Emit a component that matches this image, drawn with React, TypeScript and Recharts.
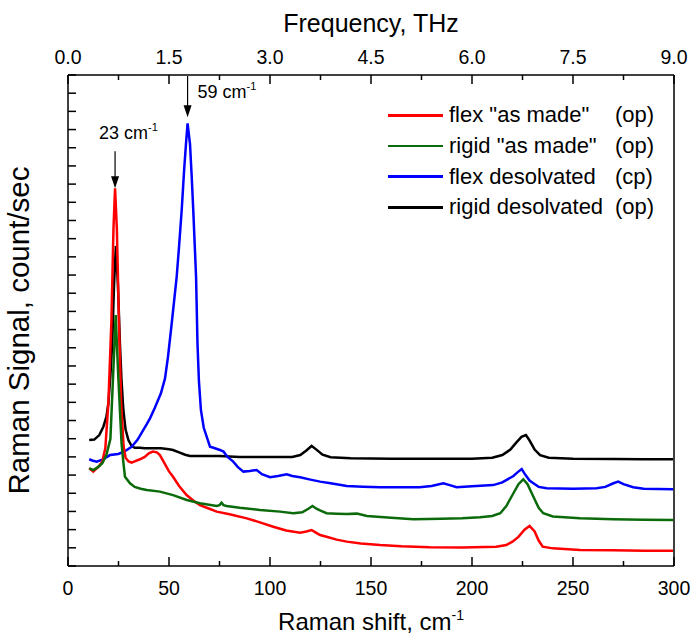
import React from 'react';
import { LineChart, Line, XAxis, YAxis, Label, Legend, ReferenceLine, ReferenceDot } from 'recharts';

// Raman spectra, values (y in arbitrary tick units)
const flexAsMade = [
  [10.5, 5.37], [12.5, 5.19], [15, 5.45], [17, 5.74], [18.5, 6.5], [20, 9.0], [21.5, 13.5], [22.5, 18.5],
  [23.3, 20.77], [24.2, 18.5], [25.2, 13.5], [26.3, 9.0], [27.5, 6.6], [28.5, 5.95], [30, 5.75], [31.5, 5.68],
  [33, 5.75], [35.6, 5.87], [38, 6.0], [40, 6.2], [42, 6.29], [44, 6.25], [45.5, 6.1], [48, 5.6], [50, 5.2],
  [52, 4.91], [55, 4.4], [58.7, 3.9], [62, 3.6], [65.3, 3.35], [70, 3.15], [73.6, 2.99], [80, 2.85], [88.5, 2.62],
  [95, 2.4], [101.6, 2.16], [108, 1.95], [114.9, 1.83], [118, 1.9], [120.6, 1.98], [122.5, 1.85], [124.8, 1.7],
  [128, 1.61], [133, 1.45], [138, 1.34], [145, 1.24], [154.5, 1.15], [165, 1.08], [179, 1.03], [195, 1.02],
  [212, 1.06], [217, 1.15], [220, 1.34], [223, 1.6], [226, 2.0], [228.5, 2.2], [231, 1.9], [233, 1.4], [235, 1.06],
  [240, 0.97], [253.5, 0.88], [270, 0.86], [285, 0.84], [299.5, 0.84],
];

const rigidAsMade = [
  [10.5, 5.37], [12.5, 5.28], [15, 5.45], [17, 5.65], [19, 6.1], [21, 7.0], [22.3, 10.4], [23.6, 13.8],
  [24.9, 10.4], [26.5, 6.75], [27.5, 5.6], [28.2, 4.91], [30.7, 4.55], [33, 4.35], [36, 4.25], [39, 4.18],
  [45.5, 4.09], [52, 3.9], [58.8, 3.63], [65.3, 3.45], [73.6, 3.3], [75, 3.35], [76, 3.48], [77, 3.35],
  [78.5, 3.3], [85, 3.2], [95, 3.08], [105, 2.99], [111.5, 2.9], [116, 2.95], [119, 3.15], [121, 3.3],
  [123, 3.15], [125, 3.05], [128, 2.9], [133, 2.88], [138, 2.86], [143, 2.88], [148, 2.75], [160, 2.65],
  [171, 2.57], [185, 2.6], [195, 2.62], [204, 2.68], [210, 2.75], [214, 2.9], [217, 3.3], [220.5, 4.0],
  [223, 4.5], [225.4, 4.77], [227.5, 4.5], [230.4, 3.81], [233, 3.2], [235.3, 2.9], [240, 2.72], [253.5, 2.62],
  [270, 2.57], [285, 2.55], [299.6, 2.53],
];

const flexDesolvated = [
  [10.5, 5.87], [12, 5.8], [14.2, 5.74], [17, 5.85], [20.8, 6.1], [24.9, 6.16], [28, 6.3], [31.5, 6.56],
  [34.5, 6.95], [37.3, 7.48], [39, 7.8], [40.6, 8.12], [43, 8.7], [46, 9.5], [48, 10.3], [49.5, 11.5],
  [51.5, 13.5], [53.8, 15.9], [55, 17.6], [56.3, 19.6], [57.5, 21.8], [58.4, 23.2], [59.2, 24.34], [60.4, 23.2],
  [61.2, 21.5], [62, 19.6], [63.4, 15.9], [64.1, 12.25], [64.8, 10.2], [65.8, 8.58], [67.2, 7.6], [70.3, 6.56],
  [72, 6.5], [75.2, 6.38], [77, 6.29], [79, 6.0], [81.8, 5.74], [84, 5.45], [86.8, 5.19], [90, 5.22], [93.4, 5.28],
  [96, 5.05], [100, 4.88], [104, 4.95], [108.3, 5.04], [111, 4.95], [114.9, 4.88], [120, 4.75], [124.8, 4.64],
  [130, 4.55], [138, 4.4], [146, 4.36], [154.5, 4.33], [165, 4.33], [174, 4.33], [180, 4.4], [185.8, 4.55],
  [189, 4.45], [192.4, 4.33], [200, 4.38], [210.5, 4.45], [215, 4.6], [220.5, 4.95], [222.5, 5.15], [224.6, 5.33],
  [226.5, 5.0], [228.5, 4.7], [230.4, 4.55], [233, 4.35], [237, 4.27], [250, 4.25], [261.7, 4.27], [266, 4.35],
  [270, 4.55], [272.4, 4.64], [275, 4.5], [279.8, 4.33], [285, 4.25], [299.6, 4.22],
];

const rigidDesolvated = [
  [10.5, 6.93], [13, 6.95], [15.5, 7.2], [17.5, 7.66], [19, 8.2], [20, 8.95], [21, 10.5], [21.9, 12.25],
  [22.8, 15.5], [23.7, 17.6], [24.7, 15.5], [25.7, 12.25], [26.5, 10.2], [27.4, 8.58], [28.5, 7.5], [29.9, 6.93],
  [31.5, 6.6], [33, 6.5], [35.6, 6.5], [38, 6.48], [42, 6.47], [46, 6.47], [50, 6.42], [52, 6.38], [55, 6.25],
  [58, 6.12], [60.4, 6.05], [65, 6.05], [75, 6.05], [85, 6.0], [100, 6.0], [111, 6.0], [115, 6.1], [118, 6.35],
  [120.6, 6.6], [123, 6.4], [126, 6.12], [130, 5.98], [140, 5.92], [160, 5.9], [180, 5.9], [200, 5.9], [210, 5.95],
  [215, 6.1], [219, 6.4], [222, 6.8], [224.5, 7.1], [226.7, 7.2], [228.5, 6.9], [231, 6.4], [233.7, 6.1],
  [238, 5.95], [250, 5.9], [270, 5.88], [285, 5.87], [299.5, 5.87],
];

const seriesNames = ['flex "as made"', 'rigid "as made"', 'flex desolvated', 'rigid desolvated'];
const seriesTags = ['(op)', '(op)', '(cp)', '(op)'];
const seriesColors = ['#ff0000', '#0b6b0b', '#0000ff', '#000000'];

const shiftTicks = [0, 25, 50, 75, 100, 125, 150, 175, 200, 225, 250, 275, 300];
const freqTicks = [0, 0.75, 1.5, 2.25, 3.0, 3.75, 4.5, 5.25, 6.0, 6.75, 7.5, 8.25, 9.0];
const signalTicks = Array.from({ length: 28 }, (_, i) => i);

const peaks = [
  { x: 23.3, y: 20.77, label: '23' },
  { x: 59.2, y: 24.34, label: '59' },
];

const FONT = '"Liberation Sans", Arial, Helvetica, sans-serif';
const toPoints = (arr: number[][]) => arr.map(([x, y]) => ({ x, y }));
const allSeries = [flexAsMade, rigidAsMade, flexDesolvated, rigidDesolvated].map(toPoints);
// empty carrier so the top (THz) axis gets drawn
const freqCarrier = freqTicks.map((f) => ({ f, y: null }));

const BottomTick = ({ x, y, payload }: any) => {
  const major = payload.value % 50 === 0;
  return (
    <g>
      <line x1={x} x2={x} y1={y} y2={y - (major ? 9 : 5)} stroke="#000" strokeWidth={1.5} />
      {major && (
        <text x={x} y={y + 28.5} textAnchor="middle" fontSize={19.5} fill="#000" fontFamily={FONT}>
          {payload.value}
        </text>
      )}
    </g>
  );
};

const TopTick = ({ x, y, payload }: any) => {
  const major = Math.abs(payload.value / 1.5 - Math.round(payload.value / 1.5)) < 1e-6;
  return (
    <g>
      <line x1={x} x2={x} y1={y} y2={y + (major ? 9 : 5)} stroke="#000" strokeWidth={1.5} />
      {major && (
        <text x={x} y={y - 11} textAnchor="middle" fontSize={19.5} fill="#000" fontFamily={FONT}>
          {payload.value.toFixed(1)}
        </text>
      )}
    </g>
  );
};

const LeftTick = ({ x, y }: any) => (
  <line x1={x} x2={x + 8} y1={y} y2={y} stroke="#000" strokeWidth={1.5} />
);

const PeakArrow = (label: string, left: boolean) => (props: any) => {
  const { cx, cy } = props;
  const tip = left ? cy : cy - 6;
  const start = left ? cy - 37 : 76;
  return (
    <g>
      <line x1={cx} x2={cx} y1={start} y2={tip - 10} stroke="#000" strokeWidth={1.2} />
      <polygon points={`${cx - 4},${tip - 12} ${cx + 4},${tip - 12} ${cx},${tip}`} fill="#000" />
      <text x={left ? cx - 16 : cx + 10} y={left ? cy - 49 : 97.5} fontSize={18} fontFamily={FONT} fill="#000">
        {label} cm<tspan fontSize={11} dy={-8}>-1</tspan>
      </text>
    </g>
  );
};

const LegendBox = () => (
  <div style={{ fontFamily: FONT, fontSize: 22, color: '#000' }}>
    {seriesNames.map((name, i) => (
      <div key={name} style={{ display: 'flex', alignItems: 'center', height: 30.7, whiteSpace: 'pre' }}>
        <div style={{ width: 55, height: 2.5, background: seriesColors[i], marginRight: 6 }} />
        <span style={{ width: 166 }}>{name}</span>
        <span>{seriesTags[i]}</span>
      </div>
    ))}
  </div>
);

export default function App() {
  return (
    <div style={{ position: 'absolute', left: 0, top: 0, background: '#fff' }}>
      <LineChart width={691} height={636} margin={{ top: 0, right: 17, bottom: 0, left: 0 }} style={{ fontFamily: FONT }}>
        <XAxis
          dataKey="x"
          type="number"
          domain={[0, 300]}
          ticks={shiftTicks}
          allowDataOverflow
          height={70}
          tickSize={0}
          tickMargin={0}
          tickLine={false}
          tick={<BottomTick />}
          axisLine={{ stroke: '#000', strokeWidth: 1.5 }}
          interval={0}
        >
          <Label
            content={({ viewBox }: any) => (
              <text
                x={viewBox.x + viewBox.width / 2}
                y={viewBox.y + 64}
                textAnchor="middle"
                fontSize={24}
                fontFamily={FONT}
                fill="#000"
              >
                Raman shift, cm<tspan fontSize={14} dy={-10}>-1</tspan>
              </text>
            )}
          />
        </XAxis>
        <XAxis
          xAxisId="top"
          dataKey="f"
          orientation="top"
          type="number"
          domain={[0, 9]}
          ticks={freqTicks}
          allowDataOverflow
          height={75}
          tickSize={0}
          tickMargin={0}
          tickLine={false}
          tick={<TopTick />}
          axisLine={{ stroke: '#000', strokeWidth: 1.5 }}
          interval={0}
        >
          <Label
            content={({ viewBox }: any) => (
              <text
                x={viewBox.x + viewBox.width / 2}
                y={32}
                textAnchor="middle"
                fontSize={25}
                fontFamily={FONT}
                fill="#000"
              >
                Frequency, THz
              </text>
            )}
          />
        </XAxis>
        <YAxis
          type="number"
          domain={[0, 27]}
          ticks={signalTicks}
          allowDataOverflow
          width={68}
          tickSize={0}
          tickMargin={0}
          tickLine={false}
          tick={<LeftTick />}
          axisLine={{ stroke: '#000', strokeWidth: 1.5 }}
          interval={0}
        >
          <Label
            content={({ viewBox }: any) => (
              <text
                transform={`translate(${viewBox.x + 29},${viewBox.y + viewBox.height / 2 + 10}) rotate(-90)`}
                textAnchor="middle"
                fontSize={29.5}
                fontFamily={FONT}
                fill="#000"
              >
                Raman Signal, count/sec
              </text>
            )}
          />
        </YAxis>
        <ReferenceLine x={300} stroke="#000" strokeWidth={1.5} />
        <Line
          xAxisId="top"
          data={freqCarrier}
          dataKey="y"
          stroke="none"
          dot={false}
          legendType="none"
          isAnimationActive={false}
        />
        {[3, 2, 0, 1].map((i) => (
          <Line
            key={seriesNames[i]}
            data={allSeries[i]}
            dataKey="y"
            type="linear"
            stroke={seriesColors[i]}
            strokeWidth={2.5}
            dot={false}
            isAnimationActive={false}
          />
        ))}
        {peaks.map((p, i) => (
          <ReferenceDot key={p.label} x={p.x} y={p.y} r={0} shape={PeakArrow(p.label, i === 0)} />
        ))}
        <Legend
          layout="vertical"
          align="center"
          verticalAlign="middle"
          content={() => <LegendBox />}
          wrapperStyle={{ left: 388, top: 100, width: 300 }}
        />
      </LineChart>
    </div>
  );
}
